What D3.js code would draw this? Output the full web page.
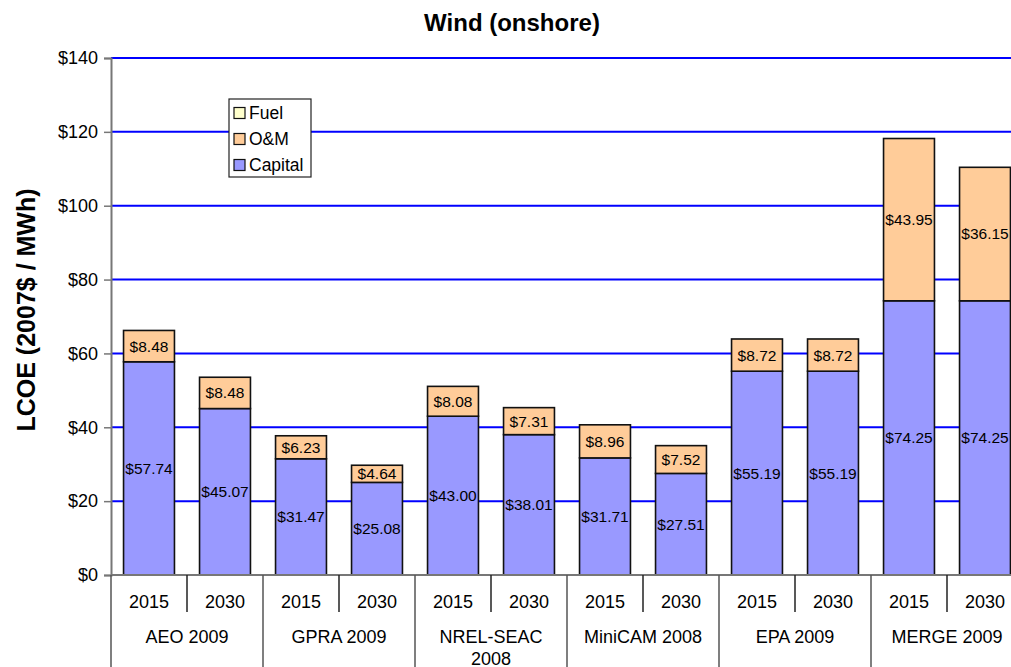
<!DOCTYPE html>
<html>
<head>
<meta charset="utf-8">
<script src="https://cdn.jsdelivr.net/npm/d3@7"></script>
<style>
  html, body { margin: 0; padding: 0; background: #fff; }
  svg { display: block; font-family: "Liberation Sans", Arial, sans-serif; }
</style>
</head>
<body>
<svg id="chart" width="1011" height="667"></svg>
<script>
// Levelized cost of electricity, onshore wind, by study and year
const groups = ["AEO 2009", "GPRA 2009", "NREL-SEAC 2008", "MiniCAM 2008", "EPA 2009", "MERGE 2009"];
const years = ["2015", "2030"];
const capital = [57.74, 45.07, 31.47, 25.08, 43.00, 38.01, 31.71, 27.51, 55.19, 55.19, 74.25, 74.25];
const om = [8.48, 8.48, 6.23, 4.64, 8.08, 7.31, 8.96, 7.52, 8.72, 8.72, 43.95, 36.15];
const fuel = [0, 0, 0, 0, 0, 0, 0, 0, 0, 0, 0, 0];
const yTicks = [0, 20, 40, 60, 80, 100, 120, 140];
const seriesNames = ["Capital", "O&M", "Fuel"];
const seriesColors = ["#9999FF", "#FFCC99", "#FFFFCC"];

const svg = d3.select("#chart");
const plotLeft = 111, plotRight = 1023, plotTop = 58, plotBottom = 575;

// one row per bar, keyed by study + year
const rows = [];
groups.forEach((g, gi) => years.forEach((yr, yi) => {
  const i = gi * years.length + yi;
  rows.push({ key: g + "|" + yr, group: g, year: yr, Capital: capital[i], "O&M": om[i], Fuel: fuel[i] });
}));

const x = d3.scaleBand().domain(rows.map(r => r.key)).range([plotLeft, plotRight]).paddingInner(0.33).paddingOuter(0.165);
const y = d3.scaleLinear().domain([0, 140]).range([plotBottom, plotTop]);

// horizontal gridlines
svg.append("g").selectAll("line").data(yTicks.filter(t => t > 0)).join("line")
  .attr("x1", plotLeft).attr("x2", plotRight)
  .attr("y1", d => y(d)).attr("y2", d => y(d))
  .attr("stroke", "#0000FF").attr("stroke-width", 2);

// stacked bars
const stack = d3.stack().keys(seriesNames)(rows);
const layers = svg.append("g").selectAll("g").data(stack).join("g")
  .attr("fill", (d, i) => seriesColors[i]);
layers.selectAll("rect").data(d => d.filter(s => s[1] - s[0] > 0)).join("rect")
  .attr("x", d => x(d.data.key))
  .attr("width", x.bandwidth())
  .attr("y", d => y(d[1]))
  .attr("height", d => y(d[0]) - y(d[1]))
  .attr("stroke", "#111").attr("stroke-width", 1.6);

// value labels inside each segment
stack.slice(0, 2).forEach(layer => {
  svg.append("g").selectAll("text").data(layer).join("text")
    .attr("x", d => x(d.data.key) + x.bandwidth() / 2)
    .attr("y", d => (y(d[0]) + y(d[1])) / 2)
    .attr("dy", "0.35em")
    .attr("text-anchor", "middle")
    .attr("font-size", 15.5).attr("fill", "#000")
    .text(d => "$" + (d[1] - d[0]).toFixed(2));
});

// y axis
const yAxis = d3.axisLeft(y).tickValues(yTicks).tickFormat(d => "$" + d).tickSize(7).tickPadding(6);
const ya = svg.append("g").attr("transform", `translate(${plotLeft},0)`).call(yAxis);
ya.attr("font-size", 18).attr("font-family", "Liberation Sans, Arial, sans-serif");
ya.select(".domain").attr("stroke", "#777").attr("stroke-width", 2);
ya.selectAll(".tick line").attr("stroke", "#777").attr("stroke-width", 1.5);
ya.selectAll(".tick text").attr("fill", "#000");

// x axis baseline
svg.append("line").attr("x1", plotLeft).attr("x2", plotRight).attr("y1", plotBottom).attr("y2", plotBottom)
  .attr("stroke", "#777").attr("stroke-width", 2);

const step = x.step();
const slotLeft = key => x(key) - x.paddingInner() * step / 2;

// year separators (short) and study separators (long)
rows.forEach((r, i) => {
  const xs = slotLeft(r.key);
  const isGroupStart = i % years.length === 0;
  svg.append("line").attr("x1", xs).attr("x2", xs)
    .attr("y1", plotBottom).attr("y2", isGroupStart ? 667 : 612)
    .attr("stroke", isGroupStart ? "#555" : "#222").attr("stroke-width", 1.5);
});

// year labels
svg.append("g").selectAll("text").data(rows).join("text")
  .attr("x", d => x(d.key) + x.bandwidth() / 2)
  .attr("y", 608)
  .attr("text-anchor", "middle").attr("font-size", 18).attr("fill", "#000")
  .text(d => d.year);

// study labels (wrapped where long)
groups.forEach(g => {
  const k0 = g + "|" + years[0], k1 = g + "|" + years[years.length - 1];
  const cx = (slotLeft(k0) + slotLeft(k1) + step) / 2;
  const lines = g === "NREL-SEAC 2008" ? ["NREL-SEAC", "2008"] : [g];
  const t = svg.append("text").attr("x", cx).attr("y", 643)
    .attr("text-anchor", "middle").attr("font-size", 18).attr("fill", "#000");
  lines.forEach((ln, li) => t.append("tspan").attr("x", cx).attr("dy", li ? 22 : 0).text(ln));
});

// title
svg.append("text").attr("x", 512).attr("y", 31).attr("text-anchor", "middle")
  .attr("font-size", 24).attr("font-weight", "bold").text("Wind (onshore)");

// y axis title
svg.append("text").attr("transform", `translate(35,310) rotate(-90)`)
  .attr("text-anchor", "middle").attr("font-size", 25).attr("font-weight", "bold")
  .text("LCOE (2007$ / MWh)");

// legend
const lg = svg.append("g").attr("transform", "translate(229,99)");
lg.append("rect").attr("width", 82).attr("height", 78).attr("fill", "#fff").attr("stroke", "#222").attr("stroke-width", 1.2);
const legendOrder = ["Fuel", "O&M", "Capital"];
legendOrder.forEach((n, i) => {
  const c = seriesColors[seriesNames.indexOf(n)];
  const gy = 14 + i * 26;
  lg.append("rect").attr("x", 5).attr("y", gy - 5.5).attr("width", 11).attr("height", 11)
    .attr("fill", c).attr("stroke", "#111").attr("stroke-width", 1.2);
  lg.append("text").attr("x", 20).attr("y", gy).attr("dy", "0.36em").attr("font-size", 17.5).text(n);
});
</script>
</body>
</html>
